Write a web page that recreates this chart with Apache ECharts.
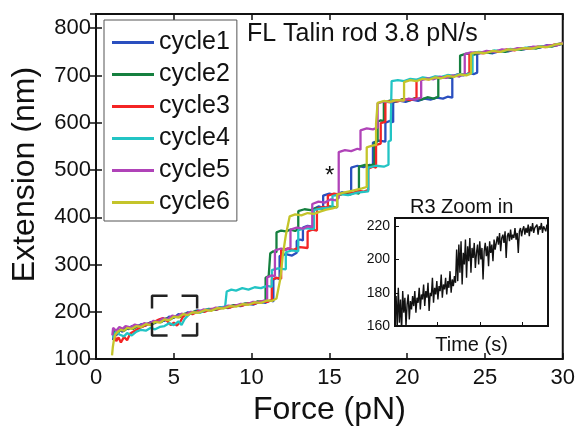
<!DOCTYPE html>
<html><head><meta charset="utf-8">
<script src="https://cdn.jsdelivr.net/npm/echarts@6/dist/echarts.min.js"></script>
<style>html,body{margin:0;padding:0;background:#fff}#c{width:578px;height:431px}</style>
</head><body><div id="c"></div>
<script>
const seriesNames = ['cycle1','cycle2','cycle3','cycle4','cycle5','cycle6'];

const cycle1 = [[1.1,140],[1.15,158],[1.3,150],[1.5,162],[1.7,158],[1.9,166],[2.1,163],[2.3,170],[2.6,167],[2.9,174],[3.2,171],[3.5,178],[3.8,176],[4.1,184],[4.4,181],[4.7,190],[5.0,187],[5.3,195],[5.6,192],[5.9,199],[6.2,197],[6.5,203],[6.9,201],[7.3,206],[7.7,204],[8.1,210],[8.5,208],[8.9,213],[9.3,212],[9.7,217],[10.1,215],[10.5,221],[10.9,219],[11.2,224],[11.4,222],
[11.4,268],[11.6,272],[11.8,269],[11.8,318],[12.2,322],[12.6,319],[12.9,325],[12.9,350],[13.1,353],[13.3,351],[13.3,378],[13.6,382],[14.0,379],[14.0,418],[14.3,423],[14.6,420],[14.6,446],[15.0,450],[15.4,447],[15.8,453],[16.1,450],[16.4,455],[16.4,505],[16.8,509],[17.2,506],[17.6,511],[17.8,508],[17.8,558],[18.2,562],[18.6,560],[18.6,600],[18.9,604],[19.1,601],[19.1,643],[19.5,647],[19.9,644],[20.3,649],[20.7,646],[21.1,651],[21.5,649],[21.9,653],[22.3,651],[22.6,655],[22.9,653],[22.9,698],[23.2,702],[23.6,700],[24.0,705],[24.3,703],[24.5,706],[24.5,746],[25.0,749],[25.5,747],[26.0,752],[26.5,751],[27.0,756],[27.5,755],[28.0,760],[28.5,759],[29.0,764],[29.5,763],[30,768]];

const cycle2 = [[1.1,150],[1.2,160],[1.4,155],[1.6,163],[1.8,160],[2.1,167],[2.4,164],[2.7,171],[3.0,169],[3.3,175],[3.6,173],[3.9,180],[4.2,178],[4.5,186],[4.8,184],[5.1,191],[5.4,189],[5.7,196],[6.0,195],[6.4,202],[6.8,200],[7.2,206],[7.6,204],[8.0,210],[8.4,209],[8.8,214],[9.2,213],[9.6,218],[10.0,217],[10.4,222],[10.7,220],[10.9,224],
[10.9,272],[11.1,276],[11.2,273],[11.2,324],[11.4,328],[11.6,326],[11.6,368],[11.9,372],[12.2,370],[12.5,374],[12.8,371],[13.0,375],[13.0,413],[13.4,417],[13.8,415],[14.2,420],[14.6,418],[15.0,423],[15.5,421],[15.5,446],[15.9,450],[16.3,448],[16.6,452],[16.9,450],[16.9,507],[17.3,511],[17.6,509],[17.9,513],[17.9,558],[18.1,561],[18.1,602],[18.3,605],[18.5,603],[18.5,643],[18.9,647],[19.3,645],[19.7,650],[20.1,647],[20.5,652],[20.9,649],[21.3,654],[21.7,651],[22.0,655],[22.0,693],[22.4,697],[22.8,695],[23.1,700],[23.4,698],[23.4,742],[23.8,746],[24.3,744],[24.8,749],[25.3,748],[25.8,752],[26.3,750],[26.8,755],[27.3,754],[27.8,759],[28.3,757],[28.8,762],[29.3,761],[29.8,766],[30,767]];

const cycle3 = [[1.2,152],[1.3,138],[1.45,146],[1.6,135],[1.8,147],[2.0,140],[2.2,154],[2.5,160],[2.8,166],[3.1,170],[3.4,175],[3.7,178],[4.0,183],[4.3,187],[4.6,180],[4.8,172],[5.0,177],[5.2,171],[5.4,178],[5.6,190],[5.9,197],[6.2,195],[6.6,202],[7.0,200],[7.4,206],[7.8,205],[8.2,210],[8.6,209],[9.0,214],[9.4,213],[9.8,218],[10.2,217],[10.6,222],[11.0,221],[11.3,225],
[11.3,268],[11.6,272],[11.9,270],[11.9,330],[12.3,334],[12.7,331],[13.1,337],[13.6,335],[13.6,370],[13.9,374],[14.2,372],[14.2,418],[14.6,422],[14.9,420],[14.9,446],[15.3,450],[15.7,448],[16.1,453],[16.5,451],[16.9,456],[17.2,454],[17.5,458],[17.5,503],[17.8,507],[18.0,505],[18.0,553],[18.3,556],[18.3,599],[18.6,602],[18.6,643],[19.0,647],[19.4,645],[19.8,650],[20.2,648],[20.6,652],[20.6,690],[21.0,694],[21.4,692],[21.8,697],[22.2,695],[22.6,700],[23.0,698],[23.4,703],[23.7,701],[24.0,705],[24.0,745],[24.4,749],[24.9,747],[25.4,751],[25.9,750],[26.4,755],[26.9,753],[27.4,758],[27.9,757],[28.4,761],[28.9,760],[29.4,765],[30,768]];

const cycle4 = [[1.1,145],[1.3,160],[1.5,152],[1.8,148],[2.0,155],[2.3,150],[2.6,158],[2.9,162],[3.2,160],[3.5,166],[3.8,163],[4.1,168],[4.4,170],[4.7,176],[5.0,172],[5.3,180],[5.5,172],[5.7,185],[6.0,195],[6.3,200],[6.7,198],[7.1,205],[7.5,204],[7.9,209],[8.3,211],[8.4,213],
[8.4,243],[8.7,247],[9.0,245],[9.4,250],[9.8,247],[10.2,252],[10.6,250],[11.0,255],[11.3,253],[11.3,288],[11.7,292],[12.2,290],[12.2,326],[12.6,330],[13.0,328],[13.0,373],[13.5,377],[14.0,375],[14.0,415],[14.5,419],[15.2,421],[15.2,445],[15.7,449],[16.2,447],[16.8,452],[17.5,455],[17.5,505],[18.0,509],[18.5,507],[18.8,511],[18.8,560],[18.95,563],[18.95,605],[19.0,607],[19.0,688],[19.4,690],[19.8,688],[20.2,693],[20.6,691],[21.0,696],[21.4,694],[21.8,698],[22.2,697],[22.6,701],[23.0,699],[23.4,703],[23.8,702],[24.2,706],[24.2,747],[24.6,750],[25.1,748],[25.6,753],[26.1,751],[26.6,756],[27.1,754],[27.6,759],[28.1,758],[28.6,762],[29.1,761],[29.6,766],[30,769]];

const cycle5 = [[1.05,150],[1.1,166],[1.3,160],[1.5,168],[1.7,164],[1.9,170],[2.2,167],[2.5,173],[2.8,170],[3.1,176],[3.4,174],[3.7,181],[4.0,179],[4.3,186],[4.6,184],[4.9,192],[5.2,190],[5.5,196],[5.8,194],[6.1,200],[6.5,199],[6.9,205],[7.3,203],[7.7,209],[8.1,208],[8.5,213],[8.9,212],[9.3,217],[9.7,216],[10.1,221],[10.5,220],[10.8,224],[11.0,223],
[11.0,273],[11.3,277],[11.5,275],[11.5,330],[11.9,334],[12.2,331],[12.5,336],[12.5,374],[12.9,378],[13.3,376],[13.6,381],[13.9,379],[13.9,428],[14.3,433],[14.7,431],[15.1,438],[15.4,436],[15.6,441],[15.6,538],[16.0,542],[16.4,540],[16.8,545],[17.0,543],[17.0,584],[17.4,588],[17.8,586],[18.1,590],[18.1,641],[18.5,645],[18.9,643],[19.3,648],[19.7,646],[20.1,651],[20.5,649],[20.9,653],[20.9,690],[21.3,694],[21.7,692],[22.1,697],[22.5,695],[22.9,700],[23.3,698],[23.7,703],[23.7,745],[24.1,749],[24.6,747],[25.1,752],[25.6,750],[26.1,755],[26.6,753],[27.1,758],[27.6,756],[28.1,761],[28.6,760],[29.1,764],[29.6,763],[30,770]];

const cycle6 = [[1.03,108],[1.08,125],[1.15,140],[1.25,152],[1.4,158],[1.6,162],[1.8,160],[2.0,166],[2.3,164],[2.6,170],[2.9,168],[3.2,174],[3.5,172],[3.8,179],[4.1,177],[4.4,184],[4.7,182],[5.0,190],[5.3,188],[5.6,195],[5.9,193],[6.2,199],[6.6,198],[7.0,204],[7.4,202],[7.8,208],[8.2,207],[8.6,212],[9.0,211],[9.4,216],[9.8,215],[10.2,220],[10.6,219],[11.0,224],[11.3,223],[11.6,228],
[11.8,262],[11.85,270],[12.0,318],[12.05,322],[12.2,362],[12.25,366],[12.45,402],[12.8,406],[13.2,404],[13.6,409],[14.0,407],[14.4,412],[14.8,416],[15.2,419],[15.5,422],[15.5,448],[15.9,452],[16.3,455],[16.7,458],[17.1,461],[17.4,464],[17.4,548],[17.7,551],[18.0,553],[18.0,598],[18.1,600],[18.1,642],[18.5,646],[18.9,644],[19.3,648],[19.8,647],[19.8,686],[20.2,690],[20.6,688],[21.0,693],[21.4,691],[21.8,696],[22.2,694],[22.6,699],[23.0,697],[23.4,702],[23.8,700],[24.1,704],[24.1,746],[24.5,749],[25.0,747],[25.5,752],[26.0,750],[26.5,755],[27.0,754],[27.5,758],[28.0,757],[28.5,761],[29.0,760],[29.5,765],[30,768]];

const insetExtension = [
166,178,159,183,162,176,157,181,168,177,160,173,179,164,175,170,178,172,181,168,
177,174,183,170,179,176,185,172,181,177,186,169,180,178,189,174,183,179,187,176,
184,181,191,177,185,182,189,179,187,183,193,180,188,184,190,186,
206,187,209,192,211,185,204,197,212,189,208,199,213,192,207,201,210,195,204,209,
197,211,200,207,188,205,210,202,208,196,211,204,209,199,212,206,
210,214,209,216,205,213,215,210,217,201,214,216,211,218,212,215,213,219,212,216,
204,217,219,214,218,220,215,219,216,221,214,220,217,222,216,219,218,221,215,220,
218,222,216,220,219,217,221,218];
const insetTimeSpan = 3.6;

const xTickValues = [0,5,10,15,20,25,30];
const yTickValues = [100,200,300,400,500,600,700,800];
const insetYTicks = [160,180,200,220];

// dashed-corner bracket marking the zoomed region (data units)
const bracket = [[3.6,207],[3.6,234],[4.6,234],'-',[5.5,234],[6.5,234],[6.5,207],'-',[3.6,177],[3.6,150],[4.6,150],'-',[5.5,150],[6.5,150],[6.5,177]];

const colors = ['#2a4fbf','#15803f','#f42424','#22c4c4','#b043b8','#c4c42a'];
const cycles = [cycle1,cycle2,cycle3,cycle4,cycle5,cycle6];
const FONT = 'Liberation Sans, Arial, Helvetica, sans-serif';

const chart = echarts.init(document.getElementById('c'), null, {renderer:'canvas'});
const insetData = insetExtension.map((v,i)=>[i*insetTimeSpan/(insetExtension.length-1), v]);

const tickStyle = {show:true, inside:true, length:6, lineStyle:{color:'#111', width:1.5}};
const option = {
  animation:false,
  backgroundColor:'#fff',
  textStyle:{fontFamily:FONT},
  title:[
    {text:'FL Talin rod 3.8 pN/s', left:247, top:22, padding:0, textStyle:{fontFamily:FONT, fontSize:25, fontWeight:'normal', color:'#111'}},
    {text:'R3 Zoom in', left:410, top:197, padding:0, textStyle:{fontFamily:FONT, fontSize:20, fontWeight:'normal', color:'#111'}}
  ],
  legend:{
    data:seriesNames, orient:'vertical', left:104, top:20,
    padding:[10,7,6,8], itemGap:7, itemWidth:42, itemHeight:3, icon:'rect',
    backgroundColor:'#fff', borderColor:'#555', borderWidth:1,
    textStyle:{fontFamily:FONT, fontSize:25, color:'#111', lineHeight:24}
  },
  grid:[
    {left:96, top:14, width:467, height:348, show:true, borderColor:'#111', borderWidth:2, backgroundColor:'transparent'},
    {left:395, top:218, width:153, height:108, show:true, borderColor:'#111', borderWidth:2, backgroundColor:'#fff'}
  ],
  xAxis:[
    {type:'value', gridIndex:0, min:0, max:30, interval:5, position:'bottom',
     axisLine:{show:false}, axisTick:tickStyle, splitLine:{show:false},
     axisLabel:{fontFamily:FONT, fontSize:22, color:'#111', margin:8, formatter:v=>xTickValues.includes(v)?String(v):''},
     name:'Force (pN)', nameLocation:'middle', nameGap:30, nameTextStyle:{fontFamily:FONT, fontSize:32, color:'#111'}},
    {type:'value', gridIndex:0, min:0, max:30, interval:5, position:'top',
     axisLine:{show:false}, axisTick:tickStyle, splitLine:{show:false}, axisLabel:{show:false}},
    {type:'value', gridIndex:1, min:0, max:insetTimeSpan, interval:1, position:'bottom',
     axisLine:{show:false}, axisTick:{show:true, inside:true, length:4, lineStyle:{color:'#111', width:1}}, splitLine:{show:false}, axisLabel:{show:false},
     name:'Time (s)', nameLocation:'middle', nameGap:9, nameTextStyle:{fontFamily:FONT, fontSize:20, color:'#111'}}
  ],
  yAxis:[
    {type:'value', gridIndex:0, min:100, max:830, interval:100, position:'left',
     axisLine:{show:false}, axisTick:tickStyle, splitLine:{show:false},
     axisLabel:{fontFamily:FONT, fontSize:22, color:'#111', margin:5, formatter:v=>yTickValues.includes(v)?String(v):''},
     name:'Extension (nm)', nameLocation:'middle', nameGap:55, nameRotate:90,
     nameTextStyle:{fontFamily:FONT, fontSize:32, color:'#111', padding:[0,0,0,24]}},
    {type:'value', gridIndex:0, min:100, max:830, interval:100, position:'right',
     axisLine:{show:false}, axisTick:tickStyle, splitLine:{show:false}, axisLabel:{show:false}},
    {type:'value', gridIndex:1, min:160, max:225, interval:20, position:'left',
     axisLine:{show:false}, axisTick:{show:true, inside:true, length:4, lineStyle:{color:'#111', width:1}}, splitLine:{show:false},
     axisLabel:{fontFamily:FONT, fontSize:14, color:'#111', margin:5, formatter:v=>insetYTicks.includes(v)?String(v):''}}
  ],
  graphic:[
    {type:'text', left:325, top:164, style:{text:'*', font:'24px '+FONT, fill:'#111'}, z:100}
  ],
  series: cycles.map((d,i)=>({
    name:seriesNames[i], type:'line', xAxisIndex:0, yAxisIndex:0, data:d,
    showSymbol:false, symbol:'none', lineStyle:{width:2.3, color:colors[i]}, itemStyle:{color:colors[i]}, z:2+i
  })).concat([
    {name:'bracket', type:'line', xAxisIndex:0, yAxisIndex:0, data:bracket, showSymbol:false, symbol:'none', connectNulls:false,
     lineStyle:{width:2.5, color:'#222'}, z:10},
    {name:'R3', type:'line', xAxisIndex:2, yAxisIndex:2, data:insetData, showSymbol:false, symbol:'none',
     lineStyle:{width:1.4, color:'#111'}, z:10}
  ])
};
chart.setOption(option);
</script></body></html>
